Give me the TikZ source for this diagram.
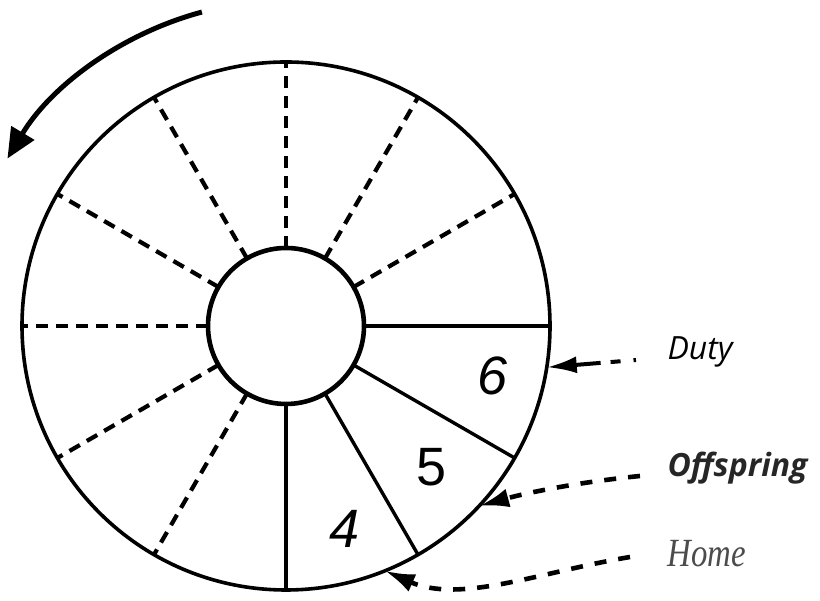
\documentclass[tikz,border=0pt]{standalone}
\usepackage{fontspec}
\usetikzlibrary{arrows.meta}
\newfontfamily\labfont{Open Sans}
\newfontfamily\digitfont{Liberation Sans}
\newfontfamily\homefont[FakeStretch=0.82]{Liberation Serif}
\begin{document}
\begin{tikzpicture}[x=1pt,y=1pt,
  ring/.style={draw, circle, inner sep=0pt, outer sep=0pt},
  spoke/.style={line width=3.4pt},
  spokedash/.style={line width=4.2pt, dash pattern=on 12pt off 8pt},
  digit/.style={font=\digitfont\fontsize{54}{60}\selectfont},
  lab/.style={anchor=base west},
  pointer/.style={line width=4.6pt, dash pattern=on 12pt off 12pt, -{Latex[length=30pt,width=19pt]}}]
\useasboundingbox (0,0) rectangle (820,601);
\coordinate (C) at (286,275);
\node[ring, line width=3.6pt, minimum size=528pt] (outer) at (C) {};
\node[ring, line width=4.6pt, minimum size=156pt, fill=white] (inner) at (C) {};
\foreach \a in {30,60,...,240} \draw[spokedash] (inner.\a) -- (outer.\a);
\foreach \a in {0,-30,-60,-90} \draw[spoke] (inner.\a) -- (outer.\a);
% sector numbers
\node[digit] (d6) at (493,225) {\itshape 6};
\node[digit] (d5) at (432,134) {5};
\node[digit] (d4) at (345,72) {\itshape 4};
% rotation arrow
\coordinate (rotS) at ([shift={(105:325)}]C);
\draw[line width=5pt, -{Triangle[length=30pt,width=26pt]}] (rotS) arc[start angle=105, end angle=149, radius=325];
% labels
\node[lab, font=\labfont\itshape\fontsize{32}{36}\selectfont] (duty) at (664,241) {Duty};
\node[lab, font=\labfont\bfseries\itshape\fontsize{32}{36}\selectfont, text=black!85] (off) at (664,124) {Offspring};
\node[lab, font=\homefont\itshape\fontsize{40}{44}\selectfont, text=black!70] (home) at (664,34) {Home};
% pointers
\coordinate (dutyS) at (636,241);
\coordinate (offS) at (640,125);
\coordinate (homeS) at (630,44);
\draw[line width=4pt, dash pattern=on 2.5pt off 13pt on 10pt off 10pt on 80pt, -{Latex[length=30pt,width=17pt]}] (dutyS) -- (outer.-9);
\draw[pointer] (offS) .. controls (580,119) and (530,109) .. (outer.-43);
\draw[pointer] (homeS) .. controls (540,29) and (460,-3) .. (outer.-68);
\end{tikzpicture}
\end{document}
